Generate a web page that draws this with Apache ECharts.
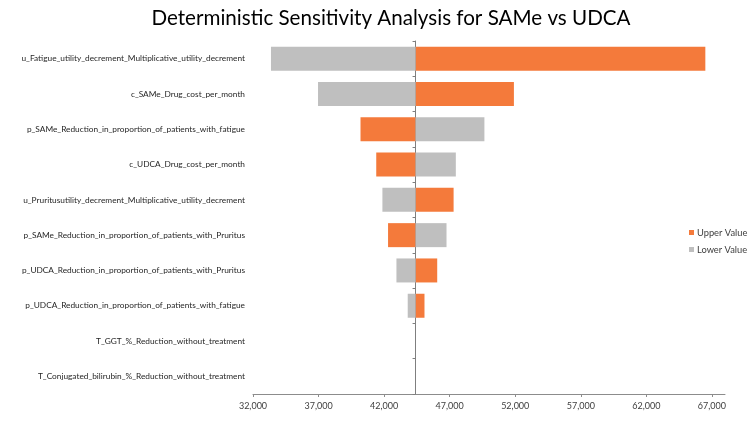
<!DOCTYPE html>
<html>
<head>
<meta charset="utf-8">
<script src="https://cdn.jsdelivr.net/npm/echarts@6/dist/echarts.min.js"></script>
<style>html,body{margin:0;padding:0;background:#fff}#c{width:750px;height:433px}</style>
</head>
<body>
<div id="c"></div>
<script>
const categories = [
  'u_Fatigue_utility_decrement_Multiplicative_utility_decrement',
  'c_SAMe_Drug_cost_per_month',
  'p_SAMe_Reduction_in_proportion_of_patients_with_fatigue',
  'c_UDCA_Drug_cost_per_month',
  'u_Pruritusutility_decrement_Multiplicative_utility_decrement',
  'p_SAMe_Reduction_in_proportion_of_patients_with_Pruritus',
  'p_UDCA_Reduction_in_proportion_of_patients_with_Pruritus',
  'p_UDCA_Reduction_in_proportion_of_patients_with_fatigue',
  'T_GGT_%_Reduction_without_treatment',
  'T_Conjugated_bilirubin_%_Reduction_without_treatment'
];
const baseline = 44400;
const upperValues = [66500, 51900, 40200, 41400, 47300, 42300, 46050, 45080, 44400, 44400];
const lowerValues = [33370, 36960, 49650, 47470, 41870, 46760, 42940, 43800, 44400, 44400];
const xTicks = [32000, 37000, 42000, 47000, 52000, 57000, 62000, 67000];
const xMin = 32000, xMax = 68000;

const ORANGE = '#F47A3B', GRAY = '#BFBFBF';
const font = 'Lato, sans-serif';

function renderBar(color) {
  return function (params, api) {
    const v = api.value(0), idx = api.value(1);
    const p0 = api.coord([baseline, idx]);
    const p1 = api.coord([v, idx]);
    const h = api.size([0, 1])[1] * 0.68;
    const x = Math.min(p0[0], p1[0]);
    const w = Math.abs(p1[0] - p0[0]);
    return {
      type: 'rect',
      shape: { x: x, y: p0[1] - h / 2, width: w, height: h },
      style: { fill: color }
    };
  };
}

const chart = echarts.init(document.getElementById('c'), null, { renderer: 'canvas' });
const catAxisBase = {
  type: 'category', data: categories, inverse: true, position: 'left'
};
chart.setOption({
  animation: false,
  backgroundColor: '#fff',
  title: {
    text: 'Deterministic Sensitivity Analysis for SAMe vs UDCA',
    left: 386, top: 3, textAlign: 'center',
    textStyle: { fontFamily: font, fontSize: 20.6, fontWeight: 'normal', color: '#000' }
  },
  legend: {
    orient: 'vertical', left: 684, top: 223,
    itemWidth: 5, itemHeight: 5, itemGap: 8,
    icon: 'rect',
    textStyle: { fontFamily: font, fontSize: 9.3, color: '#404040', padding: [0, 0, 0, -2] },
    data: [{ name: 'Upper Value', itemStyle: { color: ORANGE } }, { name: 'Lower Value', itemStyle: { color: GRAY } }]
  },
  grid: { left: 253, right: 25, top: 41, bottom: 39 },
  xAxis: {
    type: 'value', min: xMin, max: xMax, interval: 5000,
    splitLine: { show: false },
    axisLine: { show: true, lineStyle: { color: '#8C8C8C', width: 1 } },
    axisTick: { show: true, length: 3, customValues: xTicks, lineStyle: { color: '#8C8C8C' } },
    axisLabel: {
      customValues: xTicks,
      formatter: v => v.toLocaleString('en-US'),
      fontFamily: font, fontSize: 9, color: '#404040', margin: 8
    }
  },
  yAxis: [
    Object.assign({}, catAxisBase, {
      axisLine: { show: false }, axisTick: { show: false },
      axisLabel: { fontFamily: font, fontSize: 8.3, color: '#262626', margin: 8 }
    }),
    Object.assign({}, catAxisBase, {
      axisLine: { show: true, onZero: false, lineStyle: { color: '#7F7F7F', width: 1 } },
      axisTick: { show: true, length: 3, lineStyle: { color: '#7F7F7F' } },
      axisLabel: { show: false }
    })
  ],
  series: [
    {
      name: 'Upper Value', type: 'custom', yAxisIndex: 0,
      itemStyle: { color: ORANGE },
      encode: { x: 0, y: 1 },
      renderItem: renderBar(ORANGE),
      data: upperValues.map((v, i) => [v, i])
    },
    {
      name: 'Lower Value', type: 'custom', yAxisIndex: 0,
      itemStyle: { color: GRAY },
      encode: { x: 0, y: 1 },
      renderItem: renderBar(GRAY),
      data: lowerValues.map((v, i) => [v, i])
    }
  ]
});
const px = chart.convertToPixel({ xAxisIndex: 0 }, baseline);
const leftPx = chart.convertToPixel({ xAxisIndex: 0 }, xMin);
chart.setOption({ yAxis: [{}, { offset: -(px - leftPx) }] });
</script>
</body>
</html>
